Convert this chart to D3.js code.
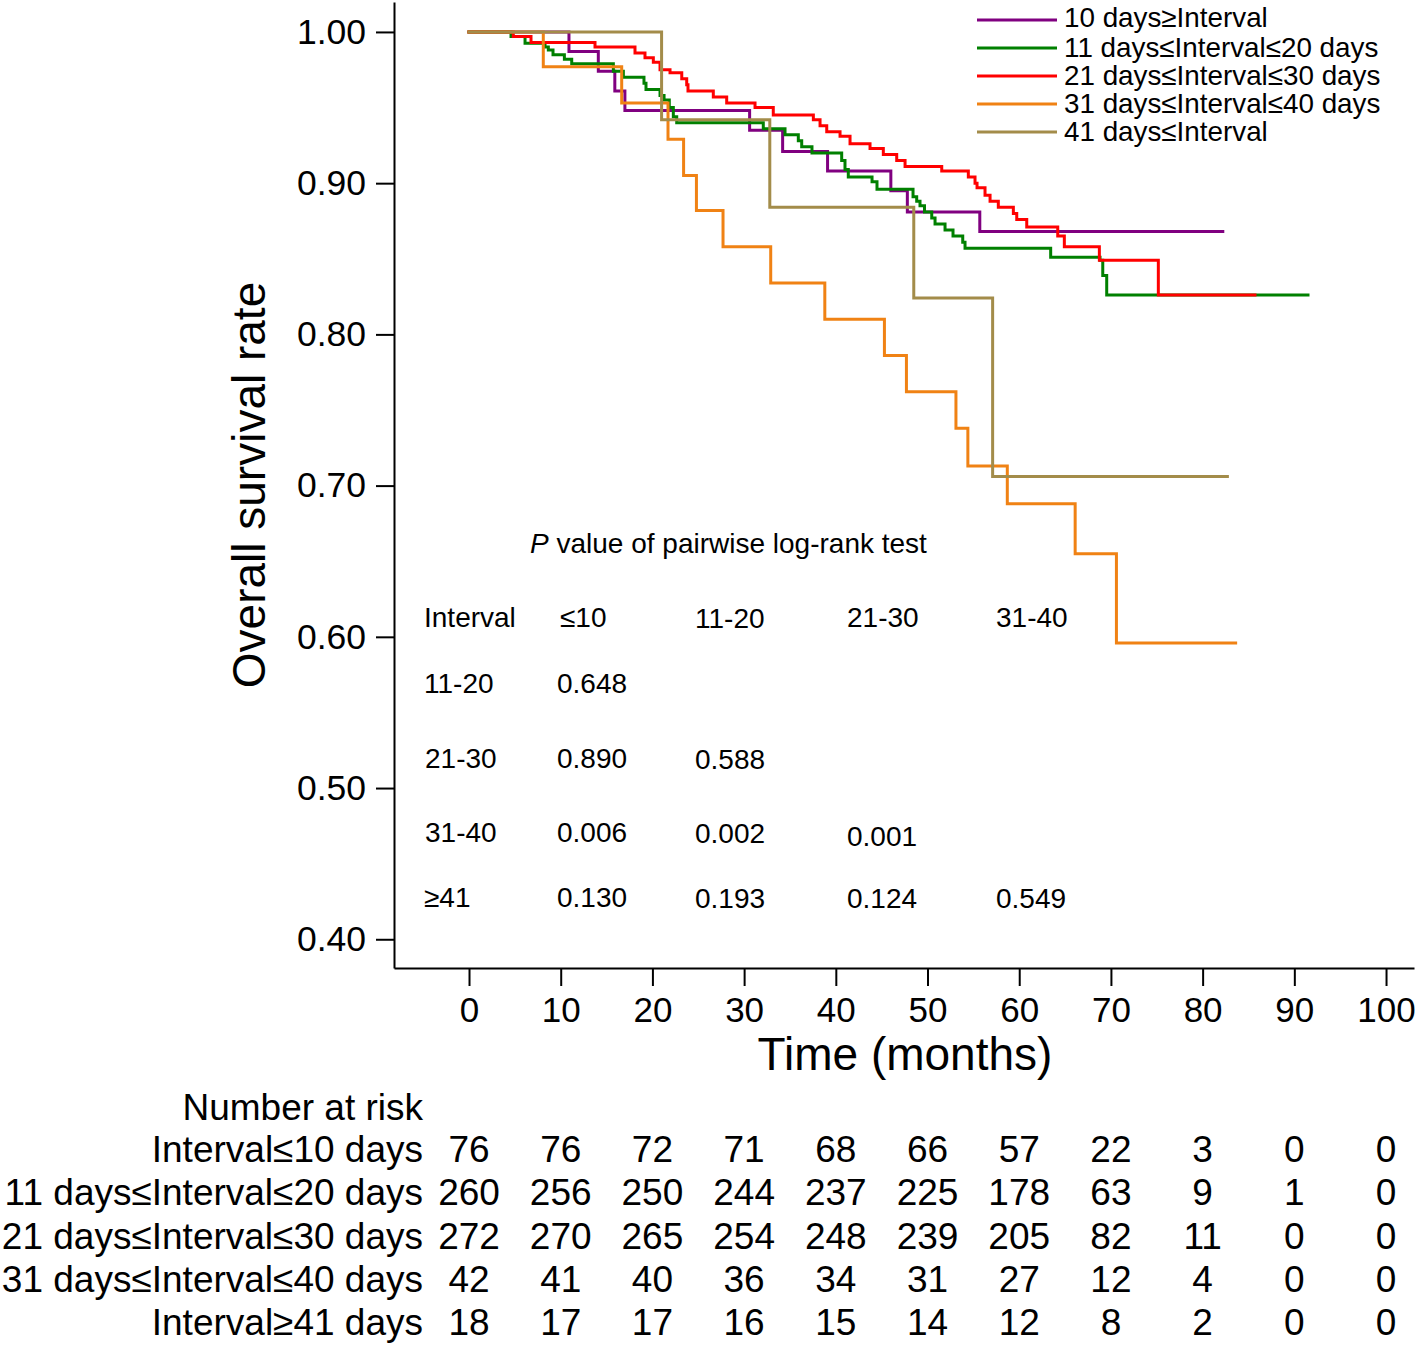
<!DOCTYPE html>
<html>
<head>
<meta charset="utf-8">
<script src="https://cdn.jsdelivr.net/npm/d3@7"></script>
<style>
  html, body { margin: 0; padding: 0; background: #fff; }
  svg { display: block; font-family: "Liberation Sans", Arial, Helvetica, sans-serif; }
</style>
</head>
<body>
<svg id="chart" width="1418" height="1347"></svg>
<script>
// ---------------- DATA ----------------
// Kaplan-Meier steps: [time (months), survival after the event]; last entry = end of follow-up
const seriesNames = ["10 days\u2265Interval", "11 days\u2264Interval\u226420 days", "21 days\u2264Interval\u226430 days", "31 days\u2264Interval\u226440 days", "41 days\u2264Interval"];
const seriesColors = ["#800080", "#008000", "#ff0000", "#f08214", "#a38c4a"];

const stepsLe10 = [[0,1],[10.9,0.987],[14.1,0.974],[15.9,0.961],[17.0,0.948],[30.6,0.935],[34.2,0.921],[39.1,0.908],[46.0,0.895],[47.8,0.881],[55.7,0.868],[82.2,0.868]];
const steps11to20 = [[0,1],[4.58,0.997],[6.11,0.9925],[8.29,0.990],[8.65,0.988],[9.16,0.985],[10.4,0.982],[11.2,0.979],[15.74,0.974],[16.83,0.970],[19.08,0.966],[19.30,0.962],[20.83,0.958],[21.27,0.955],[21.84,0.950],[22.28,0.944],[22.65,0.940],[32.09,0.936],[34.46,0.932],[35.91,0.928],[36.28,0.924],[37.40,0.920],[40.64,0.915],[41.00,0.909],[41.36,0.904],[43.95,0.901],[44.49,0.896],[48.42,0.891],[48.82,0.888],[49.18,0.885],[49.67,0.881],[50.46,0.877],[50.82,0.873],[51.91,0.869],[52.78,0.865],[53.84,0.861],[54.09,0.857],[63.43,0.851],[68.81,0.849],[69.11,0.839],[69.54,0.826],[91.49,0.826]];
const steps21to30 = [[0,1],[4.83,0.997],[6.76,0.993],[13.74,0.990],[18.10,0.986],[19.19,0.983],[20.10,0.980],[20.83,0.975],[21.92,0.973],[23.20,0.969],[23.74,0.965],[23.88,0.961],[26.64,0.957],[28.10,0.953],[31.19,0.950],[33.18,0.945],[37.55,0.942],[38.28,0.938],[39.01,0.934],[40.46,0.931],[41.55,0.926],[43.73,0.923],[45.18,0.919],[46.64,0.915],[47.55,0.911],[51.55,0.908],[54.45,0.904],[55.18,0.900],[55.40,0.897],[56.27,0.892],[56.82,0.888],[57.72,0.884],[59.36,0.880],[59.73,0.876],[60.82,0.871],[64.20,0.865],[64.92,0.858],[68.74,0.849],[75.17,0.826],[85.71,0.826]];
const steps31to40 = [[0,1],[8.10,0.977],[16.65,0.953],[21.7,0.929],[23.4,0.905],[24.8,0.882],[27.7,0.858],[32.9,0.834],[38.8,0.810],[45.3,0.786],[47.7,0.762],[53.1,0.738],[54.4,0.713],[58.7,0.688],[66.1,0.655],[70.6,0.596],[83.6,0.596]];
const stepsGe41 = [[0,1],[21.0,0.942],[32.8,0.884],[48.5,0.824],[57.1,0.706],[82.7,0.706]];
const allSteps = [stepsLe10, steps11to20, steps21to30, steps31to40, stepsGe41];

const yTicks = [0.40, 0.50, 0.60, 0.70, 0.80, 0.90, 1.00];
const xTicks = [0, 10, 20, 30, 40, 50, 60, 70, 80, 90, 100];

// Number at risk
const riskLabels = ["Interval\u226410 days", "11 days\u2264Interval\u226420 days", "21 days\u2264Interval\u226430 days", "31 days\u2264Interval\u226440 days", "Interval\u226541 days"];
const riskLe10   = [76, 76, 72, 71, 68, 66, 57, 22, 3, 0, 0];
const risk11to20 = [260, 256, 250, 244, 237, 225, 178, 63, 9, 1, 0];
const risk21to30 = [272, 270, 265, 254, 248, 239, 205, 82, 11, 0, 0];
const risk31to40 = [42, 41, 40, 36, 34, 31, 27, 12, 4, 0, 0];
const riskGe41   = [18, 17, 17, 16, 15, 14, 12, 8, 2, 0, 0];
const riskRows = [riskLe10, risk11to20, risk21to30, risk31to40, riskGe41];

// Pairwise log-rank P values
const pColHeaders = ["Interval", "\u226410", "11-20", "21-30", "31-40"];
const pRowHeaders = ["11-20", "21-30", "31-40", "\u226541"];
const pValues = [
  ["0.648"],
  ["0.890", "0.588"],
  ["0.006", "0.002", "0.001"],
  ["0.130", "0.193", "0.124", "0.549"]
];

// ---------------- LAYOUT ----------------
const svg = d3.select("#chart");
const FONT = '"Liberation Sans", Arial, Helvetica, sans-serif';

const x = d3.scaleLinear().domain([-8.18, 103.05]).range([394, 1414]);
const y = d3.scaleLinear().domain([0.381, 1.0198]).range([968, 2]);

// Y axis
const yAxis = d3.axisLeft(y).tickValues(yTicks).tickFormat(d3.format(".2f"))
  .tickSize(18).tickSizeOuter(0).tickPadding(10);
const gy = svg.append("g").attr("transform", "translate(394,0)").call(yAxis);
gy.selectAll("path, line").attr("stroke", "#000").attr("stroke-width", 2);
gy.selectAll("text").attr("font-size", 35.5).attr("font-family", FONT).attr("fill", "#000");

// X axis
const xAxis = d3.axisBottom(x).tickValues(xTicks).tickFormat(d3.format("d"))
  .tickSize(18).tickSizeOuter(0).tickPadding(11);
const gx = svg.append("g").attr("transform", "translate(0,968)").call(xAxis);
gx.selectAll("path, line").attr("stroke", "#000").attr("stroke-width", 2);
gx.selectAll("text").attr("font-size", 35).attr("font-family", FONT).attr("fill", "#000");

// Axis titles
svg.append("text")
  .attr("transform", "translate(265,485) rotate(-90)")
  .attr("text-anchor", "middle").attr("font-size", 46).attr("fill", "#000")
  .text("Overall survival rate");
svg.append("text")
  .attr("x", 905).attr("y", 1070)
  .attr("text-anchor", "middle").attr("font-size", 46).attr("fill", "#000")
  .text("Time (months)");

// Curves
const line = d3.line().x(d => x(d[0])).y(d => y(d[1])).curve(d3.curveStepAfter);
allSteps.forEach((s, i) => {
  svg.append("path")
    .attr("d", line(s))
    .attr("fill", "none")
    .attr("stroke", seriesColors[i])
    .attr("stroke-width", 3)
    .attr("stroke-linejoin", "miter")
    .attr("stroke-linecap", "square");
});

// Legend
const legend = svg.append("g");
seriesNames.forEach((name, i) => {
  const ly = 20 + i * 28;
  legend.append("line")
    .attr("x1", 977).attr("x2", 1057).attr("y1", ly).attr("y2", ly)
    .attr("stroke", seriesColors[i]).attr("stroke-width", 3);
  legend.append("text")
    .attr("x", 1064).attr("y", ly + (i === 0 ? 7 : 9))
    .attr("font-size", 27.8).attr("fill", "#000")
    .text(name);
});

// P value table
const pt = svg.append("g").attr("font-size", 28).attr("fill", "#000");
const ptTitle = pt.append("text").attr("x", 530).attr("y", 553);
ptTitle.append("tspan").attr("font-style", "italic").text("P");
ptTitle.append("tspan").text(" value of pairwise log-rank test");

const pColX = [424, 557, 695, 847, 996];
const pRowY = [627, 693, 768, 842, 907];
pColHeaders.forEach((h, j) => {
  pt.append("text").attr("x", pColX[j] + (j === 1 ? 3 : 0)).attr("y", pRowY[0] + (j === 2 ? 1 : 0)).text(h);
});
pRowHeaders.forEach((h, i) => {
  pt.append("text").attr("x", pColX[0] + (i === 1 || i === 2 ? 1 : 0)).attr("y", pRowY[i + 1]).text(h);
  pValues[i].forEach((v, j) => {
    pt.append("text").attr("x", pColX[j + 1]).attr("y", pRowY[i + 1] + (j > 0 ? 1 : 0) + (i === 2 && j === 2 ? 3 : 0)).text(v);
  });
});

// Number at risk
const risk = svg.append("g").attr("font-size", 37).attr("fill", "#000");
risk.append("text").attr("x", 423).attr("y", 1120).attr("text-anchor", "end").text("Number at risk");
riskLabels.forEach((lab, i) => {
  const by = 1162 + i * 43.3;
  risk.append("text").attr("x", 423).attr("y", by).attr("text-anchor", "end").text(lab);
  riskRows[i].forEach((n, k) => {
    risk.append("text").attr("x", x(xTicks[k])).attr("y", by).attr("text-anchor", "middle").text(n);
  });
});
</script>
</body>
</html>
